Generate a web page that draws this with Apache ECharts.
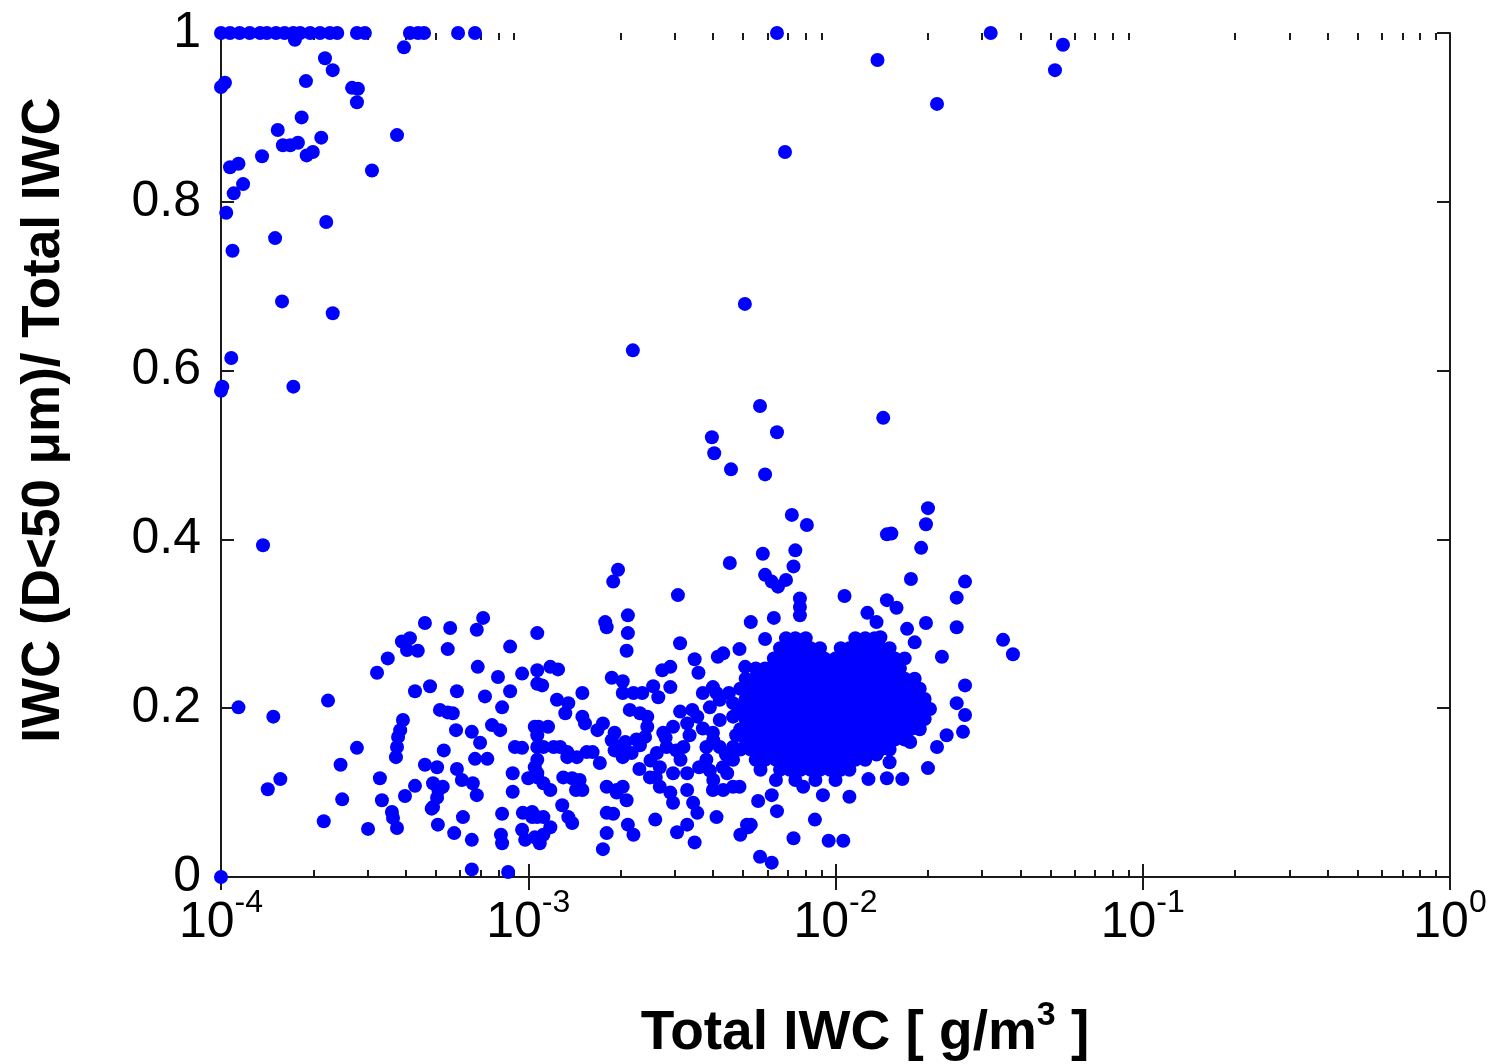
<!DOCTYPE html>
<html>
<head>
<meta charset="utf-8">
<title>IWC fraction vs total IWC</title>
<script src="https://cdn.jsdelivr.net/npm/echarts@6/dist/echarts.min.js"></script>
<style>
  html, body { margin: 0; padding: 0; background: #fff; }
  #chart { width: 1493px; height: 1064px; }
</style>
</head>
<body>
<div id="chart"></div>
<script>
// Total IWC [g/m^3] and small-particle fraction, scattered samples
const iwcSparse = [
  // ratio = 1 row
  1.0e-4, 1.07e-4, 1.15e-4, 1.24e-4, 1.34e-4, 1.41e-4, 1.51e-4, 1.61e-4, 1.72e-4, 1.81e-4, 1.95e-4, 2.10e-4,
  2.26e-4, 2.39e-4, 2.77e-4, 2.94e-4, 4.12e-4, 4.38e-4, 4.58e-4, 5.91e-4, 6.71e-4, 6.45e-3, 3.2e-2,
  // upper left
  1.74e-4, 3.94e-4, 2.18e-4, 2.31e-4, 1.89e-4, 1.0e-4, 1.03e-4, 2.67e-4, 2.79e-4, 2.77e-4, 1.83e-4, 1.53e-4,
  3.74e-4, 1.59e-4, 1.68e-4, 1.78e-4, 2.12e-4, 1.90e-4, 1.99e-4, 1.36e-4, 1.07e-4, 1.14e-4, 3.10e-4, 1.18e-4,
  1.10e-4, 1.04e-4, 2.20e-4, 1.50e-4, 1.09e-4, 1.58e-4, 2.31e-4, 1.08e-4, 1.01e-4, 1.0e-4, 1.72e-4, 1.37e-4,
  // upper right
  1.37e-2, 5.18e-2, 5.50e-2, 2.14e-2, 6.85e-3, 5.07e-3, 2.19e-3, 5.68e-3, 1.43e-2, 6.45e-3, 5.90e-3, 3.96e-3,
  4.03e-3, 4.57e-3,
  // around 1e-2
  7.21e-3, 8.07e-3, 2.00e-2, 1.97e-2, 1.47e-2, 1.52e-2, 1.90e-2, 5.80e-3, 7.4e-3, 7.3e-3, 5.9e-3, 6.2e-3,
  6.5e-3, 6.9e-3, 1.76e-2, 2.64e-2, 2.48e-2, 1.07e-2, 1.47e-2, 1.58e-2, 7.66e-3, 7.66e-3, 7.66e-3, 1.27e-2,
  1.36e-2, 5.3e-3, 6.3e-3, 1.97e-2, 2.48e-2, 5.9e-3, 1.71e-2, 3.51e-2, 3.78e-2, 2.22e-2, 2.64e-2, 2.48e-2,
  2.64e-2, 2.60e-2, 2.30e-2, 2.14e-2, 2.0e-2, 1.28e-2, 1.47e-2, 1.65e-2, 1.36e-2, 1.5e-2, 1.75e-2, 8.57e-3,
  7.3e-3, 9.5e-3, 1.06e-2, 5.68e-3, 6.2e-3, 6.45e-3, 5.6e-3, 6.2e-3, 5.15e-3, 7.85e-3, 1.11e-2, 9.1e-3,
  1.81e-2, 1.40e-2,
  // 1e-4 .. 1e-3
  7.13e-4, 6.8e-4, 4.61e-4, 5.57e-4, 3.88e-4, 4.12e-4, 4.03e-4, 4.37e-4, 5.47e-4, 8.73e-4, 3.49e-4, 3.22e-4,
  6.85e-4, 7.97e-4, 9.55e-4, 1.07e-3, 1.07e-3, 1.07e-3, 4.28e-4, 4.79e-4, 5.86e-4, 7.23e-4, 8.73e-4, 8.22e-4,
  2.23e-4, 1.14e-4, 1.48e-4, 5.16e-4, 5.47e-4, 5.68e-4, 3.91e-4, 3.83e-4, 3.77e-4, 3.74e-4, 3.71e-4, 5.82e-4,
  6.55e-4, 7.62e-4, 8.1e-4, 6.97e-4, 6.71e-4, 7.36e-4, 9.05e-4, 9.55e-4, 5.31e-4, 2.77e-4, 2.45e-4, 3.29e-4,
  1.56e-4, 1.42e-4, 2.48e-4, 3.34e-4, 4.28e-4, 3.97e-4, 4.61e-4, 5.05e-4, 4.9e-4, 5.1e-4, 5.05e-4, 4.9e-4,
  4.85e-4, 5.27e-4, 5.86e-4, 6.08e-4, 6.6e-4, 6.8e-4, 3.6e-4, 3.63e-4, 3.74e-4, 2.16e-4, 3.01e-4, 5.08e-4,
  5.74e-4, 6.13e-4, 6.55e-4, 8.22e-4, 8.15e-4, 8.22e-4, 8.9e-4, 8.9e-4, 1.0e-3, 9.6e-4, 1.03e-3, 9.55e-4,
  9.77e-4, 1.05e-3, 6.55e-4, 8.6e-4, 1.0e-4, 1.05e-3, 1.07e-3, 1.07e-3, 1.07e-3, 1.05e-3, 1.07e-3,
  // 1e-3 .. 5e-3
  1.96e-3, 1.89e-3, 3.07e-3, 4.53e-3, 1.78e-3, 1.80e-3, 2.11e-3, 2.11e-3, 2.09e-3, 3.12e-3, 4.87e-3, 3.48e-3,
  3.58e-3, 4.14e-3, 4.31e-3, 2.73e-3, 2.9e-3, 1.18e-3, 1.25e-3, 1.11e-3, 1.5e-3, 1.87e-3, 2.03e-3, 2.55e-3,
  2.9e-3, 2.03e-3, 2.2e-3, 2.35e-3, 2.65e-3, 1.24e-3, 1.35e-3, 1.32e-3, 1.5e-3, 1.53e-3, 1.08e-3, 1.16e-3,
  1.75e-3, 1.68e-3, 2.14e-3, 2.31e-3, 2.44e-3, 2.44e-3, 2.40e-3, 2.31e-3, 2.17e-3, 2.03e-3, 1.91e-3, 1.87e-3,
  1.91e-3, 2.07e-3, 1.99e-3, 1.12e-3, 1.21e-3, 1.27e-3, 1.34e-3, 1.44e-3, 1.55e-3, 1.62e-3, 1.34e-3, 1.07e-3,
  1.12e-3, 1.18e-3, 1.30e-3, 1.39e-3, 1.47e-3, 1.50e-3, 1.43e-3, 1.71e-3, 1.80e-3, 1.94e-3, 2.03e-3, 2.09e-3,
  1.94e-3, 1.80e-3, 1.89e-3, 2.11e-3, 2.20e-3, 1.80e-3, 1.75e-3, 1.29e-3, 1.35e-3, 1.39e-3, 1.03e-3, 1.07e-3,
  1.12e-3, 1.18e-3, 1.12e-3, 1.09e-3, 2.59e-3, 3.05e-3, 3.29e-3, 3.48e-3, 4.10e-3, 4.90e-3, 5.2e-3, 5.3e-3,
  2.62e-3, 2.82e-3, 3.03e-3, 3.20e-3, 3.13e-3, 2.68e-3, 2.96e-3, 3.29e-3, 3.60e-3, 3.80e-3, 2.49e-3, 2.68e-3,
  2.90e-3, 2.96e-3, 3.29e-3, 3.44e-3, 3.55e-3, 2.75e-3, 2.96e-3, 3.29e-3, 3.55e-3, 3.42e-3, 3.12e-3, 3.99e-3,
  4.20e-3, 3.90e-3, 3.70e-3, 4.64e-3, 5.0e-3, 4.64e-3, 4.20e-3, 3.99e-3, 3.80e-3, 4.20e-3, 4.64e-3, 4.64e-3,
  4.44e-3, 4.0e-3, 4.31e-3, 4.64e-3, 4.87e-3, 3.99e-3, 4.1e-3, 4.5e-3, 5.08e-3, 5.27e-3,
  // filling the 2e-3 .. 5e-3 band
  2.25e-3, 2.5e-3, 2.8e-3, 3.35e-3, 3.7e-3, 4.0e-3, 4.4e-3, 2.3e-3, 2.6e-3, 3.9e-3, 4.3e-3, 4.75e-3
];
const ratioSparse = [
  1, 1, 1, 1, 1, 1, 1, 1, 1, 1, 1, 1,
  1, 1, 1, 1, 1, 1, 1, 1, 1, 1, 1,
  0.992, 0.983, 0.970, 0.956, 0.943, 0.936, 0.941, 0.935, 0.934, 0.918, 0.900, 0.885,
  0.879, 0.867, 0.867, 0.870, 0.876, 0.855, 0.859, 0.854, 0.841, 0.845, 0.837, 0.821,
  0.810, 0.787, 0.776, 0.757, 0.742, 0.682, 0.668, 0.615, 0.581, 0.576, 0.581, 0.393,
  0.968, 0.956, 0.986, 0.916, 0.859, 0.679, 0.624, 0.558, 0.544, 0.527, 0.477, 0.521,
  0.502, 0.483,
  0.429, 0.417, 0.437, 0.418, 0.406, 0.407, 0.390, 0.383, 0.387, 0.368, 0.358, 0.350,
  0.344, 0.352, 0.353, 0.350, 0.331, 0.333, 0.328, 0.319, 0.330, 0.320, 0.310, 0.313,
  0.302, 0.302, 0.307, 0.301, 0.296, 0.282, 0.294, 0.281, 0.264, 0.261, 0.227, 0.206,
  0.192, 0.172, 0.168, 0.154, 0.129, 0.116, 0.117, 0.116, 0.145, 0.136, 0.160, 0.068,
  0.046, 0.043, 0.043, 0.024, 0.017, 0.078, 0.090, 0.097, 0.062, 0.107, 0.095, 0.097,
  0.278, 0.284,
  0.307, 0.293, 0.301, 0.295, 0.279, 0.283, 0.269, 0.268, 0.270, 0.273, 0.259, 0.242,
  0.249, 0.237, 0.241, 0.245, 0.229, 0.289, 0.220, 0.226, 0.220, 0.214, 0.220, 0.201,
  0.209, 0.201, 0.190, 0.198, 0.195, 0.194, 0.186, 0.174, 0.166, 0.154, 0.142, 0.174,
  0.172, 0.180, 0.174, 0.159, 0.140, 0.140, 0.154, 0.153, 0.150, 0.153, 0.133, 0.117,
  0.116, 0.104, 0.092, 0.091, 0.108, 0.096, 0.133, 0.130, 0.111, 0.103, 0.094, 0.083,
  0.081, 0.107, 0.128, 0.115, 0.111, 0.097, 0.077, 0.070, 0.058, 0.066, 0.057, 0.062,
  0.052, 0.071, 0.044, 0.075, 0.050, 0.040, 0.123, 0.101, 0.117, 0.076, 0.071, 0.056,
  0.044, 0.047, 0.009, 0.006, 0.0, 0.178, 0.168, 0.154, 0.139, 0.130, 0.118,
  0.364, 0.350, 0.334, 0.372, 0.302, 0.296, 0.310, 0.289, 0.268, 0.277, 0.270, 0.258,
  0.242, 0.261, 0.265, 0.245, 0.249, 0.249, 0.246, 0.227, 0.218, 0.236, 0.232, 0.226,
  0.225, 0.218, 0.218, 0.218, 0.213, 0.210, 0.206, 0.194, 0.190, 0.182, 0.178, 0.178,
  0.182, 0.174, 0.198, 0.194, 0.190, 0.178, 0.166, 0.156, 0.147, 0.142, 0.150, 0.162,
  0.171, 0.160, 0.154, 0.154, 0.154, 0.154, 0.148, 0.142, 0.148, 0.148, 0.142, 0.123,
  0.111, 0.103, 0.118, 0.117, 0.115, 0.103, 0.103, 0.135, 0.107, 0.103, 0.107, 0.091,
  0.100, 0.076, 0.075, 0.062, 0.050, 0.052, 0.033, 0.085, 0.071, 0.064, 0.077, 0.071,
  0.071, 0.059, 0.050, 0.040, 0.068, 0.053, 0.062, 0.041, 0.071, 0.050, 0.059, 0.062,
  0.147, 0.154, 0.150, 0.154, 0.139, 0.130, 0.123, 0.123, 0.130, 0.139, 0.118, 0.107,
  0.100, 0.088, 0.103, 0.088, 0.076, 0.171, 0.178, 0.182, 0.190, 0.198, 0.196, 0.225,
  0.210, 0.201, 0.218, 0.206, 0.198, 0.190, 0.186, 0.171, 0.154, 0.154, 0.154, 0.139,
  0.123, 0.115, 0.103, 0.107, 0.107, 0.103, 0.218, 0.218, 0.249, 0.233,
  0.163, 0.138, 0.165, 0.168, 0.176, 0.162, 0.145, 0.128, 0.118, 0.126, 0.130, 0.168
];

// Dense core near 1e-2 g/m^3: one entry per ratio level with its IWC samples
const coreRatio = [0.283, 0.271, 0.259, 0.247, 0.235, 0.223, 0.211, 0.199, 0.187, 0.175, 0.163, 0.151, 0.139, 0.127, 0.115];
const coreIwc = [
  [6.9e-3, 7.4e-3, 8.0e-3, 1.16e-2, 1.25e-2, 1.34e-2],
  [6.6e-3, 7.1e-3, 7.7e-3, 8.3e-3, 8.9e-3, 1.04e-2, 1.11e-2, 1.2e-2, 1.3e-2, 1.4e-2, 1.5e-2],
  [6.3e-3, 6.85e-3, 7.4e-3, 8.0e-3, 8.6e-3, 9.2e-3, 1.0e-2, 1.07e-2, 1.16e-2, 1.25e-2, 1.34e-2, 1.45e-2, 1.56e-2, 1.68e-2],
  [5.5e-3, 5.9e-3, 6.1e-3, 6.6e-3, 7.1e-3, 7.7e-3, 8.3e-3, 8.9e-3, 9.6e-3, 1.04e-2, 1.11e-2, 1.2e-2, 1.3e-2, 1.4e-2, 1.5e-2, 1.62e-2],
  [5.1e-3, 5.5e-3, 5.9e-3, 6.4e-3, 6.9e-3, 7.4e-3, 8.0e-3, 8.6e-3, 9.2e-3, 1.0e-2, 1.07e-2, 1.16e-2, 1.25e-2, 1.34e-2, 1.45e-2, 1.56e-2, 1.68e-2, 1.81e-2],
  [4.9e-3, 5.3e-3, 5.7e-3, 6.1e-3, 6.6e-3, 7.1e-3, 7.7e-3, 8.3e-3, 8.9e-3, 9.6e-3, 1.04e-2, 1.11e-2, 1.2e-2, 1.3e-2, 1.4e-2, 1.5e-2, 1.62e-2, 1.75e-2, 1.88e-2],
  [5.1e-3, 5.5e-3, 5.9e-3, 6.4e-3, 6.9e-3, 7.4e-3, 8.0e-3, 8.6e-3, 9.2e-3, 1.0e-2, 1.07e-2, 1.16e-2, 1.25e-2, 1.34e-2, 1.45e-2, 1.56e-2, 1.68e-2, 1.81e-2, 1.95e-2],
  [4.9e-3, 5.3e-3, 5.7e-3, 6.1e-3, 6.6e-3, 7.1e-3, 7.7e-3, 8.3e-3, 8.9e-3, 9.6e-3, 1.04e-2, 1.11e-2, 1.2e-2, 1.3e-2, 1.4e-2, 1.5e-2, 1.62e-2, 1.75e-2, 1.88e-2, 2.03e-2],
  [5.1e-3, 5.5e-3, 5.9e-3, 6.4e-3, 6.9e-3, 7.4e-3, 8.0e-3, 8.6e-3, 9.2e-3, 1.0e-2, 1.07e-2, 1.16e-2, 1.25e-2, 1.34e-2, 1.45e-2, 1.56e-2, 1.68e-2, 1.81e-2, 1.95e-2],
  [4.9e-3, 5.3e-3, 5.7e-3, 6.1e-3, 6.6e-3, 7.1e-3, 7.7e-3, 8.3e-3, 8.9e-3, 9.6e-3, 1.04e-2, 1.11e-2, 1.2e-2, 1.3e-2, 1.4e-2, 1.5e-2, 1.62e-2, 1.75e-2, 1.88e-2],
  [5.1e-3, 5.5e-3, 5.9e-3, 6.4e-3, 6.9e-3, 7.4e-3, 8.0e-3, 8.6e-3, 9.2e-3, 1.0e-2, 1.07e-2, 1.16e-2, 1.25e-2, 1.34e-2, 1.45e-2, 1.56e-2, 1.68e-2],
  [4.9e-3, 5.3e-3, 5.7e-3, 6.1e-3, 6.6e-3, 7.1e-3, 7.7e-3, 8.3e-3, 8.9e-3, 9.6e-3, 1.04e-2, 1.11e-2, 1.2e-2, 1.3e-2, 1.4e-2, 1.5e-2],
  [5.5e-3, 5.9e-3, 6.4e-3, 6.9e-3, 7.4e-3, 8.0e-3, 8.6e-3, 9.2e-3, 1.0e-2, 1.07e-2, 1.16e-2, 1.25e-2],
  [5.7e-3, 6.6e-3, 7.1e-3, 7.7e-3, 8.3e-3, 8.9e-3, 9.6e-3, 1.04e-2, 1.11e-2],
  [6.4e-3, 7.4e-3, 8.6e-3, 1.0e-2]
];

// Axis ticks
const xDecades = [1e-4, 1e-3, 1e-2, 1e-1, 1];
const xTickExponents = ['-4', '-3', '-2', '-1', '0'];
const xMinorMultipliers = [2, 3, 4, 5, 6, 7, 8, 9];
const yTicks = [0, 0.2, 0.4, 0.6, 0.8, 1];
const yTickLabels = ['0', '0.2', '0.4', '0.6', '0.8', '1'];

const points = [];
iwcSparse.forEach((x, i) => points.push([x, ratioSparse[i]]));
coreRatio.forEach((r, i) => coreIwc[i].forEach(x => points.push([x, r])));

const minorTicks = [];
xDecades.slice(0, -1).forEach(d => xMinorMultipliers.forEach(m => minorTicks.push(+(d * m).toPrecision(3))));

const FONT = '"Liberation Sans", Arial, Helvetica, sans-serif';
const AXIS_COLOR = '#1a1a1a';

function logAxis(position, opts) {
  return Object.assign({
    type: 'log',
    logBase: 10,
    min: 1e-4,
    max: 1,
    position: position,
    axisLine: { show: true, lineStyle: { color: AXIS_COLOR, width: 2 } },
    axisTick: { show: true, inside: true, length: 13, lineStyle: { color: AXIS_COLOR, width: 2 } },
    axisLabel: { show: false },
    splitLine: { show: false },
    minorTick: { show: false },
    minorSplitLine: { show: false }
  }, opts);
}

function valAxis(position, showLabels) {
  return {
    type: 'value',
    min: 0,
    max: 1,
    interval: 0.2,
    position: position,
    axisLine: { show: true, lineStyle: { color: AXIS_COLOR, width: 2 } },
    axisTick: { show: true, inside: true, length: 13, lineStyle: { color: AXIS_COLOR, width: 2 } },
    axisLabel: showLabels ? {
      show: true,
      margin: 20,
      color: '#000',
      fontFamily: FONT,
      fontSize: 50,
      formatter: v => {
        const i = yTicks.findIndex(t => Math.abs(t - v) < 1e-9);
        return i >= 0 ? yTickLabels[i] : '';
      }
    } : { show: false },
    splitLine: { show: false }
  };
}

const chart = echarts.init(document.getElementById('chart'), null, { renderer: 'canvas' });
chart.setOption({
  animation: false,
  backgroundColor: '#fff',
  grid: { left: 221, right: 43, top: 33, bottom: 187, containLabel: false },
  xAxis: [
    logAxis('bottom', {
      axisTick: { show: true, inside: true, length: 13, customValues: xDecades, lineStyle: { color: AXIS_COLOR, width: 2 } },
      axisLabel: {
        show: true,
        margin: 10,
        customValues: xDecades,
        color: '#000',
        fontFamily: FONT,
        formatter: v => {
          const i = Math.round(Math.log10(v)) + 4;
          return '{b|10}{s|' + xTickExponents[i] + '}';
        },
        rich: {
          b: { fontSize: 50, fontFamily: FONT, color: '#000', verticalAlign: 'bottom' },
          s: { fontSize: 32, fontFamily: FONT, color: '#000', verticalAlign: 'bottom', padding: [0, 0, 29, 0] }
        }
      }
    }),
    logAxis('top', {
      axisTick: { show: true, inside: true, length: 13, customValues: xDecades, lineStyle: { color: AXIS_COLOR, width: 2 } }
    }),
    logAxis('bottom', {
      axisLine: { show: false },
      axisTick: { show: true, inside: true, length: 7, customValues: minorTicks, lineStyle: { color: AXIS_COLOR, width: 2 } }
    }),
    logAxis('top', {
      axisLine: { show: false },
      axisTick: { show: true, inside: true, length: 7, customValues: minorTicks, lineStyle: { color: AXIS_COLOR, width: 2 } }
    })
  ],
  yAxis: [valAxis('left', true), valAxis('right', false)],
  graphic: [
    {
      type: 'text',
      x: 44,
      y: 420,
      rotation: Math.PI / 2,
      style: {
        text: 'IWC (D<50 \u03bcm)/ Total IWC',
        font: 'bold 53px ' + FONT,
        fill: '#000',
        align: 'center',
        verticalAlign: 'middle'
      }
    },
    {
      type: 'text',
      x: 865,
      y: 1030,
      style: {
        text: '{t|Total IWC [ g/m}{s|3}{t| ]}',
        align: 'center',
        verticalAlign: 'middle',
        rich: {
          t: { fontSize: 55, fontWeight: 'bold', fontFamily: FONT, fill: '#000', verticalAlign: 'bottom' },
          s: { fontSize: 34, fontWeight: 'bold', fontFamily: FONT, fill: '#000', verticalAlign: 'bottom', padding: [0, 0, 28, 0] }
        }
      }
    }
  ],
  series: [{
    type: 'scatter',
    xAxisIndex: 0,
    yAxisIndex: 0,
    data: points,
    symbol: 'circle',
    symbolSize: 14,
    clip: false,
    itemStyle: { color: '#0000ff', opacity: 1 },
    emphasis: { disabled: true }
  }]
});
</script>
</body>
</html>
